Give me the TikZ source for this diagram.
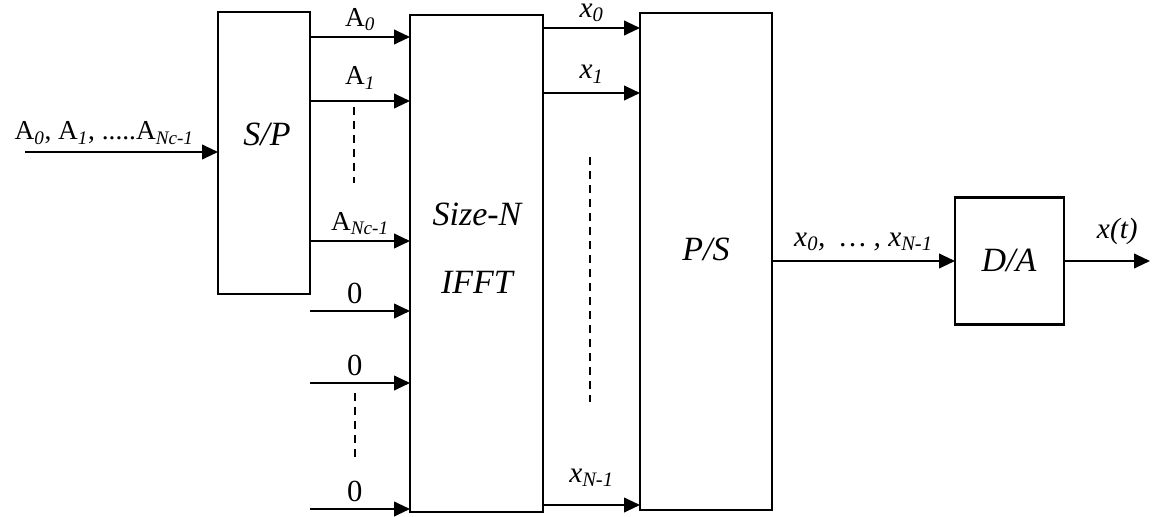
\documentclass[tikz,border=0pt]{standalone}
\usepackage{fontspec}
\setmainfont{Liberation Serif}
\usetikzlibrary{arrows.meta}
\newcommand{\lo}[1]{\textsubscript{\textit{#1}}}
\tikzset{
  blk/.style={draw, rectangle, line width=2.1pt, outer sep=0pt, inner sep=0pt},
  arr/.style={line width=1.5pt, -{Triangle[length=12pt,width=11pt]}},
  dsh/.style={line width=1.5pt, dash pattern=on 6pt off 4.5pt},
  big/.style={font=\fontsize{25.5}{30}\selectfont\itshape, anchor=base, inner sep=0pt},
  lab/.style={font=\fontsize{20.5}{24}\selectfont, anchor=base, inner sep=0pt},
  xlab/.style={font=\fontsize{22}{26}\selectfont\itshape, anchor=base, inner sep=0pt},
  zlab/.style={font=\fontsize{23}{27}\selectfont, anchor=base, inner sep=0pt},
}
\begin{document}
\begin{tikzpicture}[x=0.75pt, y=-0.75pt]
%	1単位 = 画像の1ピクセル
	\useasboundingbox (0,0) rectangle (1168,517); %全体の大きさ
	\node[blk, minimum width=69pt, minimum height=211.5pt] (sp) at (264,153) {}; %S/P の箱
	\node[blk, minimum width=99.75pt, minimum height=372.75pt] (ifft) at (476.5,263.5) {}; %IFFT の箱
	\node[blk, minimum width=99pt, minimum height=372.75pt] (ps) at (706,261.5) {}; %P/S の箱
	\node[blk, minimum width=81.75pt, minimum height=95.25pt] (da) at (1009.5,261) {}; %D/A の箱
	\node[big] (spname) at (267,146) {S/P}; %箱の文字
	\node[big] (ifftname) at (477,225) {Size-N};
	\node[big] (ifftname2) at (477,293) {IFFT};
	\node[big] (psname) at (706,260) {P/S};
	\node[big] (daname) at (1009,271) {D/A};
	\coordinate (in) at (25,152); %入力の端
	\draw[arr] (in) -- node[lab, pos=0.41, yshift=9pt] {A\lo{0}, A\lo{1}, .....A\lo{Nc-1}} (in -| sp.west); %入力
	\foreach \yy/\txt/\sh in {37/0/8pt, 101/1/12pt, 241/Nc-1/8pt} %S/P の出力
		\draw[arr] (sp.east |- 0,\yy) -- node[lab, yshift=\sh] {A\lo{\txt}} (ifft.west |- 0,\yy);
	\foreach \yy in {311, 383, 509} { %ゼロ入力
		\coordinate (z\yy) at (310,\yy);
		\draw[arr] (z\yy) -- node[zlab, xshift=-4pt, yshift=6pt] {0} (z\yy -| ifft.west);
	}
	\foreach \yy/\txt/\sh in {28/0/8pt, 93/1/10.5pt, 505/N-1/17pt} %IFFT の出力
		\draw[arr] (ifft.east |- 0,\yy) -- node[xlab, yshift=\sh] {x\lo{\txt}} (ps.west |- 0,\yy);
	\draw[dsh] (354,107) -- (354,183); %点線(上)
	\draw[dsh] (355,393) -- (355,457); %点線(下)
	\draw[dsh] (590,157) -- (590,402); %点線(右)
	\draw[arr] (ps.east |- da.west) -- node[xlab, yshift=11pt] {x\lo{0},\ \ … , x\lo{N-1}} (da.west); %P/S の出力
	\coordinate (out) at (1150,261); %出力の端
	\draw[arr] (da.east) -- node[xlab, pos=0.62, yshift=17pt] {x(t)} (out); %D/A の出力
\end{tikzpicture}
\end{document}
